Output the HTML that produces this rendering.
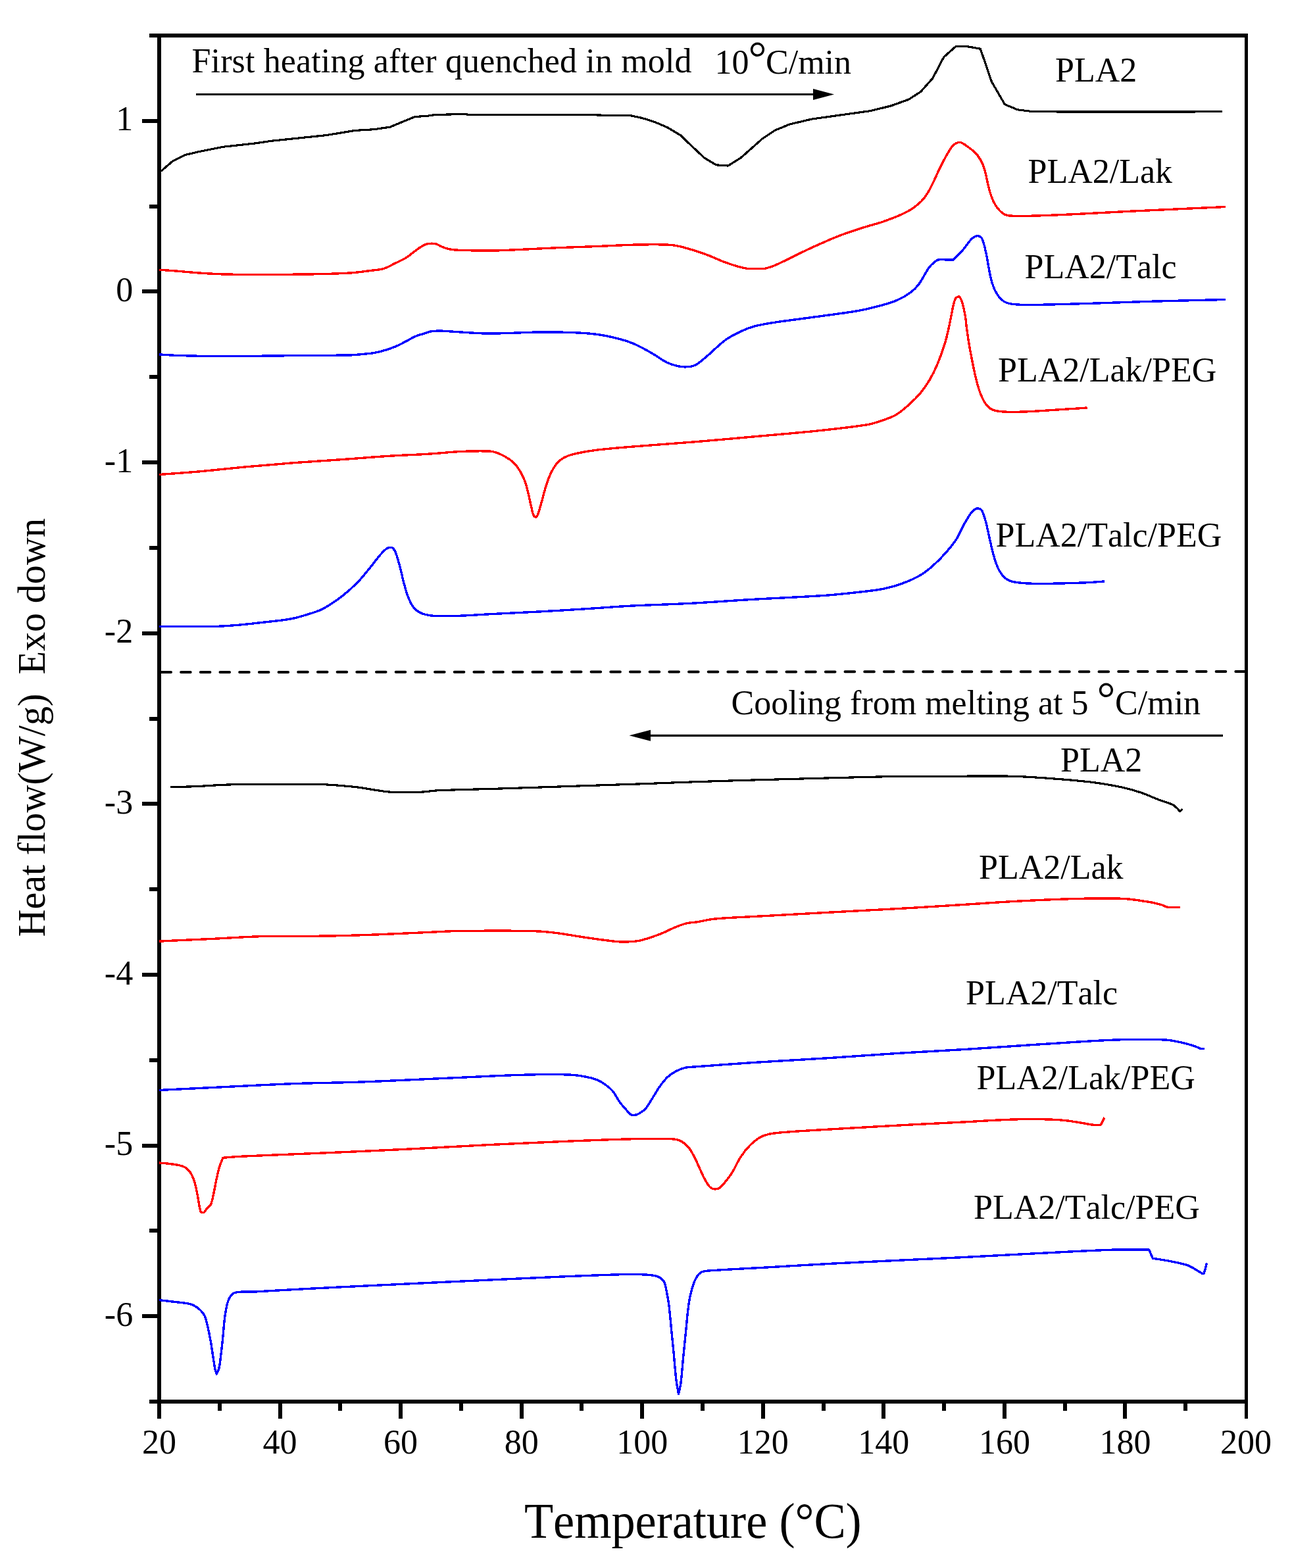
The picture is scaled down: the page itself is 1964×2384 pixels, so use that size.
<!DOCTYPE html>
<html lang="en"><head><meta charset="utf-8"><title>DSC curves: first heating and cooling of PLA2 blends</title>
<style>html,body{margin:0;padding:0;background:#fff}svg{display:block}text{font-family:"Liberation Serif","DejaVu Serif",serif;fill:#000;font-kerning:none}</style>
</head><body>
<svg width="1964" height="2384" viewBox="0 0 1964 2384">
<rect x="0" y="0" width="1964" height="2384" fill="#fff"/>
<line x1="245.4" y1="1022" x2="1893" y2="1021" stroke="#000" stroke-width="4" stroke-linecap="round" stroke-dasharray="14.6 15.09"/>
<line x1="243" y1="1022" x2="250" y2="1022" stroke="#000" stroke-width="4"/>
<g stroke="#000" fill="none" shape-rendering="crispEdges">
<line x1="227" y1="54" x2="1897" y2="54" stroke-width="6"/>
<line x1="227" y1="2131" x2="1897" y2="2131" stroke-width="6"/>
<line x1="242" y1="51" x2="242" y2="2156.5" stroke-width="6"/>
<line x1="1894.5" y1="51" x2="1894.5" y2="2156.5" stroke-width="5"/>
<line x1="216" y1="183.8" x2="240" y2="183.8" stroke-width="6"/>
<line x1="216" y1="443.4" x2="240" y2="443.4" stroke-width="6"/>
<line x1="216" y1="703.1" x2="240" y2="703.1" stroke-width="6"/>
<line x1="216" y1="962.7" x2="240" y2="962.7" stroke-width="6"/>
<line x1="216" y1="1222.3" x2="240" y2="1222.3" stroke-width="6"/>
<line x1="216" y1="1481.9" x2="240" y2="1481.9" stroke-width="6"/>
<line x1="216" y1="1741.6" x2="240" y2="1741.6" stroke-width="6"/>
<line x1="216" y1="2001.2" x2="240" y2="2001.2" stroke-width="6"/>
<line x1="227" y1="313.6" x2="240" y2="313.6" stroke-width="6"/>
<line x1="227" y1="573.2" x2="240" y2="573.2" stroke-width="6"/>
<line x1="227" y1="832.9" x2="240" y2="832.9" stroke-width="6"/>
<line x1="227" y1="1092.5" x2="240" y2="1092.5" stroke-width="6"/>
<line x1="227" y1="1352.1" x2="240" y2="1352.1" stroke-width="6"/>
<line x1="227" y1="1611.8" x2="240" y2="1611.8" stroke-width="6"/>
<line x1="227" y1="1871.4" x2="240" y2="1871.4" stroke-width="6"/>
<line x1="425.6" y1="2131" x2="425.6" y2="2156.5" stroke-width="6"/>
<line x1="609.1" y1="2131" x2="609.1" y2="2156.5" stroke-width="6"/>
<line x1="792.7" y1="2131" x2="792.7" y2="2156.5" stroke-width="6"/>
<line x1="976.2" y1="2131" x2="976.2" y2="2156.5" stroke-width="6"/>
<line x1="1159.8" y1="2131" x2="1159.8" y2="2156.5" stroke-width="6"/>
<line x1="1343.3" y1="2131" x2="1343.3" y2="2156.5" stroke-width="6"/>
<line x1="1526.9" y1="2131" x2="1526.9" y2="2156.5" stroke-width="6"/>
<line x1="1710.4" y1="2131" x2="1710.4" y2="2156.5" stroke-width="6"/>
<line x1="333.8" y1="2131" x2="333.8" y2="2145" stroke-width="6"/>
<line x1="517.3" y1="2131" x2="517.3" y2="2145" stroke-width="6"/>
<line x1="700.9" y1="2131" x2="700.9" y2="2145" stroke-width="6"/>
<line x1="884.4" y1="2131" x2="884.4" y2="2145" stroke-width="6"/>
<line x1="1068.0" y1="2131" x2="1068.0" y2="2145" stroke-width="6"/>
<line x1="1251.6" y1="2131" x2="1251.6" y2="2145" stroke-width="6"/>
<line x1="1435.1" y1="2131" x2="1435.1" y2="2145" stroke-width="6"/>
<line x1="1618.7" y1="2131" x2="1618.7" y2="2145" stroke-width="6"/>
<line x1="1802.2" y1="2131" x2="1802.2" y2="2145" stroke-width="6"/>
</g>
<g fill="none" stroke-linejoin="round" stroke-linecap="butt" shape-rendering="crispEdges">
<path stroke="#000" stroke-width="3.2" d="M245.0 260.1 L262.7 244.8 L282.0 235.4 L302.6 230.6 L338.9 223.3 L389.7 217.7 L411.5 214.4 L496.1 205.6 L539.7 198.4 L568.7 196.7 L592.9 193.1 L630.4 177.6 L650.0 176.2 L661.8 174.5 L702.9 173.5 L712.6 174.2 L886.8 174.4 L925.5 175.4 L959.4 175.9 L976.3 179.5 L995.7 185.6 L1015.0 194.0 L1034.4 205.6 L1050.0 220.6 L1070.6 239.9 L1088.7 250.8 L1106.9 252.0 L1126.2 239.9 L1158.9 210.9 L1178.2 198.1 L1200.0 189.1 L1233.9 181.1 L1267.8 176.3 L1323.4 168.6 L1354.9 160.8 L1381.5 151.1 L1399.6 139.5 L1417.8 119.0 L1434.7 86.8 L1452.9 70.6 L1471.0 70.8 L1490.3 74.2 L1507.4 124.2 L1527.4 158.7 L1546.8 166.8 L1567.7 169.4 L1612.9 170.0 L1809.7 170.0 L1858.0 169.4"/>
<path stroke="#ff0000" stroke-width="3.4" d="M242.2 410.2 C250.2 410.8 258.3 411.3 266.3 411.9 C278.4 412.9 290.5 414.2 302.6 415.0 C314.7 415.8 326.8 416.6 338.9 416.9 C355.0 417.4 371.2 417.4 387.3 417.4 C415.5 417.4 443.8 417.4 472.0 416.9 C492.1 416.6 512.3 416.2 532.4 415.0 C542.9 414.4 553.4 412.7 563.9 411.4 C570.4 410.6 577.2 410.3 583.3 408.5 C589.1 406.7 594.6 403.2 600.2 400.5 C605.9 397.7 611.8 395.3 617.1 392.0 C623.9 387.7 629.8 382.0 636.5 377.5 C639.9 375.2 643.5 372.9 647.3 371.5 C649.8 370.5 652.9 370.3 655.7 370.2 C658.1 370.1 660.7 370.3 663.0 371.0 C665.9 371.9 668.6 373.9 671.5 375.1 C675.0 376.5 678.6 377.9 682.3 378.7 C686.7 379.6 691.2 380.0 695.7 380.2 C709.4 380.8 723.1 381.0 736.8 381.1 C746.5 381.2 756.1 381.0 765.8 380.6 C792.4 379.5 819.1 377.9 845.7 376.8 C865.9 375.9 886.0 375.4 906.2 374.6 C924.7 373.9 943.3 372.7 961.8 372.2 C977.1 371.8 992.5 371.6 1007.8 371.9 C1014.2 372.0 1020.8 372.3 1027.1 373.4 C1034.8 374.7 1042.5 377.0 1050.0 379.2 C1058.1 381.6 1066.3 384.2 1074.2 387.2 C1082.4 390.3 1090.2 394.2 1098.4 397.3 C1105.6 400.0 1112.9 402.6 1120.2 404.8 C1124.9 406.2 1129.9 407.1 1134.7 408.2 C1144.4 408.2 1154.0 408.2 1163.7 408.2 C1168.5 406.6 1173.6 405.5 1178.2 403.4 C1193.7 396.4 1208.8 388.4 1224.2 381.1 C1233.0 376.9 1241.9 372.9 1250.8 369.0 C1260.4 364.8 1270.1 360.5 1279.9 356.9 C1291.8 352.5 1304.0 348.7 1316.1 344.8 C1325.3 341.9 1334.9 339.8 1344.0 336.5 C1355.5 332.3 1367.2 328.1 1377.9 322.4 C1385.8 318.2 1393.6 312.7 1400.0 306.5 C1405.1 301.6 1409.4 295.0 1412.9 288.7 C1420.1 275.7 1425.3 261.6 1432.3 248.4 C1437.2 239.2 1441.9 229.3 1448.4 221.5 C1450.5 219.0 1456.2 216.0 1459.0 216.3 C1463.4 216.8 1468.4 221.2 1472.6 224.2 C1477.2 227.5 1482.1 231.2 1485.5 235.5 C1489.5 240.7 1493.1 247.0 1495.2 253.2 C1499.5 265.7 1500.9 279.2 1504.8 291.9 C1506.8 298.5 1509.4 305.4 1512.9 311.3 C1515.8 316.0 1519.8 320.9 1524.2 324.2 C1527.1 326.4 1531.8 327.9 1535.5 328.1 C1554.7 329.0 1574.2 328.1 1593.5 327.4 C1636.5 325.8 1679.6 323.1 1722.6 321.0 C1769.4 318.8 1816.1 316.7 1862.9 314.5"/>
<path stroke="#0000ff" stroke-width="3.4" d="M242.2 538.9 C250.2 539.4 258.3 540.0 266.3 540.3 C282.4 540.9 298.6 541.3 314.7 541.5 C333.2 541.7 351.8 541.6 370.3 541.5 C396.1 541.3 422.0 540.9 447.8 540.6 C476.0 540.3 504.2 540.5 532.4 539.9 C538.9 539.8 545.3 539.0 551.8 538.4 C557.4 537.9 563.1 537.5 568.7 536.5 C574.4 535.5 580.1 534.1 585.7 532.4 C591.4 530.7 597.1 528.6 602.6 526.3 C607.6 524.2 612.3 521.5 617.1 519.0 C622.0 516.5 626.6 513.4 631.6 511.3 C635.9 509.5 640.5 508.4 645.0 507.0 C648.2 506.0 651.3 504.5 654.5 504.0 C659.2 503.2 664.2 503.0 669.0 503.1 C679.5 503.3 690.0 504.4 700.5 505.0 C712.6 505.7 724.7 506.7 736.8 507.0 C746.5 507.3 756.1 506.9 765.8 506.7 C783.5 506.3 801.3 505.2 819.0 505.0 C836.8 504.8 854.6 505.0 872.3 505.7 C883.6 506.1 895.0 506.8 906.2 508.2 C915.9 509.4 925.7 511.3 935.2 513.7 C944.2 515.9 953.3 518.5 961.8 522.0 C970.9 525.7 979.7 530.6 988.4 535.5 C996.7 540.1 1004.2 546.1 1012.6 550.5 C1017.1 552.8 1022.2 554.4 1027.1 555.8 C1031.0 556.9 1035.2 557.6 1039.2 557.8 C1043.2 558.0 1047.4 557.8 1051.3 557.0 C1054.2 556.4 1057.3 555.2 1059.7 553.6 C1064.8 550.2 1069.5 546.0 1074.2 542.0 C1084.0 533.7 1092.9 524.1 1103.2 516.6 C1110.5 511.3 1119.1 507.2 1127.4 503.3 C1133.6 500.4 1140.2 497.8 1146.8 496.1 C1156.3 493.6 1166.1 492.1 1175.8 490.5 C1190.3 488.2 1204.9 486.5 1219.4 484.5 C1231.5 482.8 1243.6 481.3 1255.7 479.6 C1271.8 477.3 1288.0 475.5 1304.0 472.6 C1316.2 470.4 1328.3 467.4 1340.3 464.1 C1348.5 461.9 1356.8 459.5 1364.5 456.1 C1370.8 453.4 1377.1 449.8 1382.7 445.7 C1387.5 442.2 1392.4 437.9 1396.0 433.2 C1402.4 424.8 1406.5 414.5 1412.9 406.0 C1415.7 402.2 1419.9 399.0 1423.8 396.1 C1424.8 395.3 1426.6 394.8 1428.0 394.8 C1435.0 394.6 1442.1 395.1 1449.2 395.2 C1454.3 389.8 1459.6 384.6 1464.5 379.0 C1469.0 373.8 1472.5 367.6 1477.4 362.9 C1479.4 361.0 1482.9 359.0 1485.5 358.7 C1487.3 358.5 1491.2 360.1 1491.9 361.3 C1495.3 367.5 1496.8 375.2 1498.4 382.3 C1501.6 396.1 1503.0 410.5 1506.5 424.2 C1508.3 431.4 1510.9 438.8 1514.5 445.2 C1517.2 450.0 1521.4 455.0 1525.8 458.1 C1529.2 460.5 1534.4 461.7 1538.7 462.3 C1548.2 463.5 1558.0 463.6 1567.7 463.5 C1597.8 463.2 1627.9 462.2 1658.0 461.3 C1690.3 460.4 1722.5 459.0 1754.8 458.1 C1790.8 457.1 1826.9 456.4 1862.9 455.5"/>
<path stroke="#ff0000" stroke-width="3.4" d="M242.2 721.5 C262.3 720.0 282.5 718.7 302.6 716.9 C326.8 714.8 351.0 711.9 375.2 709.7 C399.4 707.5 423.6 705.5 447.8 703.6 C472.0 701.8 496.1 700.3 520.3 698.6 C544.5 696.9 568.7 694.7 592.9 693.2 C611.9 692.0 631.0 691.5 650.0 690.3 C666.8 689.3 683.7 687.3 700.5 686.5 C715.0 685.8 729.5 685.6 744.0 686.0 C747.2 686.1 750.6 686.8 753.7 687.9 C758.7 689.6 763.7 691.8 768.2 694.4 C772.9 697.1 777.7 700.3 781.5 704.1 C785.3 707.9 788.5 712.7 791.2 717.4 C794.1 722.4 796.6 727.8 798.5 733.2 C800.6 739.0 801.8 745.2 803.3 751.3 C805.1 758.5 806.4 765.9 808.2 773.1 C809.1 776.8 809.7 780.7 811.3 784.0 C811.8 785.0 814.3 786.6 814.7 786.4 C815.9 786.0 817.2 783.2 817.8 781.5 C820.2 774.8 821.9 767.9 823.9 761.0 C826.0 753.8 827.6 746.4 829.9 739.2 C832.0 732.6 834.2 726.0 837.2 719.8 C839.9 714.3 843.0 708.7 846.9 704.1 C849.8 700.7 853.9 697.7 857.8 695.6 C862.2 693.2 867.4 691.5 872.3 690.3 C883.4 687.7 894.8 685.7 906.2 684.3 C926.3 681.8 946.5 680.4 966.6 678.7 C997.7 676.1 1028.9 674.1 1060.0 671.5 C1088.9 669.1 1117.9 666.4 1146.8 663.8 C1179.1 660.9 1211.4 658.3 1243.6 654.9 C1268.6 652.3 1293.8 649.6 1318.6 645.7 C1325.9 644.5 1333.2 642.0 1340.3 639.6 C1347.7 637.0 1355.5 634.6 1362.1 630.7 C1369.1 626.6 1375.4 620.8 1381.5 615.4 C1387.4 610.1 1393.3 604.6 1398.4 598.5 C1403.8 592.1 1408.6 585.1 1412.9 577.9 C1417.5 570.2 1421.5 562.0 1425.0 553.7 C1429.6 542.7 1433.7 531.3 1437.1 519.8 C1440.1 509.5 1442.1 498.9 1444.4 488.4 C1446.1 480.4 1447.3 472.2 1449.2 464.2 C1450.1 460.5 1451.0 456.3 1452.9 453.3 C1453.6 452.2 1457.3 450.6 1457.7 450.9 C1459.8 452.3 1461.5 456.4 1462.5 459.4 C1464.7 466.4 1466.1 473.8 1467.4 481.1 C1468.6 488.3 1468.9 495.7 1470.0 502.9 C1471.7 514.7 1473.5 526.4 1475.8 538.1 C1478.7 553.2 1481.5 568.4 1485.5 583.2 C1487.9 592.0 1490.9 601.1 1495.2 609.0 C1497.8 613.8 1502.1 619.2 1506.5 621.9 C1510.8 624.5 1517.2 625.3 1522.6 625.8 C1533.2 626.7 1544.1 626.4 1554.8 626.1 C1567.7 625.8 1580.6 624.7 1593.5 623.9 C1613.2 622.7 1632.9 621.3 1652.6 620.0"/>
<path stroke="#0000ff" stroke-width="3.4" d="M242.2 952.4 C270.4 952.4 298.6 952.9 326.8 952.4 C338.9 952.2 351.0 951.2 363.1 950.2 C375.2 949.2 387.3 947.7 399.4 946.3 C413.9 944.6 428.6 943.5 442.9 940.8 C452.7 939.0 462.4 935.8 472.0 932.8 C478.5 930.7 485.4 928.8 491.3 925.5 C501.4 919.9 511.2 913.3 520.3 906.2 C528.8 899.6 537.0 892.1 544.5 884.4 C551.5 877.2 557.5 869.1 563.9 861.4 C568.8 855.4 573.3 849.1 578.4 843.2 C581.0 840.2 583.8 837.1 586.9 834.8 C588.5 833.6 590.9 832.5 592.9 832.4 C594.4 832.3 596.9 833.0 597.8 834.0 C600.0 836.4 601.5 840.0 602.6 843.2 C605.1 850.3 606.8 857.7 608.7 865.0 C610.8 873.0 612.5 881.2 614.7 889.2 C616.5 895.7 618.2 902.4 620.8 908.6 C623.0 914.0 625.6 919.8 629.2 924.3 C631.5 927.3 635.4 929.6 638.9 931.6 C641.4 933.0 644.4 933.8 647.3 934.5 C651.3 935.4 655.4 936.2 659.4 936.4 C671.4 936.9 683.6 936.8 695.6 936.4 C713.4 935.8 731.1 934.4 748.9 933.5 C773.1 932.3 797.3 931.2 821.5 929.9 C845.7 928.6 869.8 927.0 894.0 925.5 C914.2 924.2 934.3 922.5 954.5 921.4 C986.3 919.7 1018.2 919.0 1050.0 917.3 C1082.3 915.6 1114.5 913.1 1146.8 911.2 C1183.1 909.1 1219.4 907.8 1255.7 905.2 C1275.9 903.8 1296.0 901.4 1316.1 899.1 C1325.8 898.0 1335.7 896.9 1345.2 894.8 C1354.2 892.8 1363.2 890.2 1371.8 887.0 C1380.9 883.6 1390.0 879.7 1398.4 874.9 C1405.3 870.9 1411.8 865.7 1417.8 860.4 C1424.6 854.4 1431.1 847.9 1437.1 841.1 C1443.2 834.2 1449.1 827.0 1454.1 819.3 C1458.8 812.0 1461.8 803.7 1466.1 796.1 C1469.6 790.0 1473.0 783.7 1477.4 778.4 C1479.3 776.1 1482.7 773.5 1485.5 772.9 C1487.1 772.6 1491.1 774.0 1491.9 775.2 C1495.1 780.2 1496.7 786.9 1498.4 792.9 C1501.6 804.6 1503.6 816.6 1506.5 828.4 C1508.9 838.1 1511.0 848.1 1514.5 857.4 C1516.8 863.6 1520.1 870.1 1524.2 875.2 C1526.9 878.5 1531.5 881.7 1535.5 883.2 C1541.4 885.4 1548.3 886.0 1554.8 886.5 C1565.5 887.4 1576.3 887.5 1587.1 887.4 C1608.6 887.2 1630.1 886.6 1651.6 885.8 C1660.7 885.5 1669.9 884.5 1679.0 883.9"/>
<path stroke="#000" stroke-width="3.2" d="M259.0 1196.6 C271.9 1196.3 284.8 1196.2 297.7 1195.7 C312.2 1195.1 326.8 1193.7 341.3 1193.2 C357.4 1192.6 373.6 1192.4 389.7 1192.3 C421.1 1192.1 452.6 1192.1 484.0 1192.5 C492.1 1192.6 500.2 1193.1 508.2 1193.7 C520.3 1194.6 532.4 1195.6 544.5 1197.1 C554.2 1198.3 563.9 1200.3 573.6 1201.7 C580.0 1202.6 586.5 1203.9 592.9 1204.1 C609.0 1204.7 625.2 1204.6 641.3 1204.1 C648.9 1203.9 656.6 1202.2 664.2 1201.9 C696.4 1200.5 728.7 1200.0 761.0 1199.0 C801.3 1197.7 841.7 1196.3 882.0 1194.9 C914.2 1193.8 946.5 1192.8 978.7 1191.7 C1005.8 1190.7 1032.9 1189.5 1060.0 1188.6 C1095.4 1187.4 1130.7 1186.4 1166.1 1185.4 C1200.0 1184.4 1233.9 1183.5 1267.8 1182.7 C1298.4 1181.9 1329.1 1181.0 1359.7 1180.6 C1396.5 1180.1 1433.2 1180.2 1470.0 1180.1 C1493.5 1180.1 1517.1 1179.6 1540.6 1180.3 C1561.7 1180.9 1582.9 1182.5 1604.0 1184.1 C1623.2 1185.6 1642.5 1187.1 1661.6 1189.5 C1676.1 1191.3 1690.5 1193.8 1704.8 1196.8 C1714.5 1198.9 1724.2 1201.6 1733.6 1204.8 C1743.4 1208.1 1752.7 1212.6 1762.4 1216.3 C1769.1 1218.8 1776.2 1220.5 1782.6 1223.5 C1785.2 1224.7 1787.4 1227.4 1789.8 1229.3 C1791.0 1230.7 1792.3 1232.2 1793.5 1233.6 C1794.9 1232.4 1796.2 1231.1 1797.6 1229.9"/>
<path stroke="#ff0000" stroke-width="3.4" d="M242.2 1431.1 C270.4 1429.8 298.6 1428.5 326.8 1427.2 C351.0 1426.0 375.2 1424.2 399.4 1423.6 C431.6 1422.8 463.9 1423.6 496.1 1423.1 C520.3 1422.7 544.5 1422.0 568.7 1421.1 C595.8 1420.1 622.9 1418.7 650.0 1417.5 C664.4 1416.9 678.8 1415.8 693.2 1415.6 C731.9 1415.1 770.7 1414.9 809.4 1415.6 C821.5 1415.8 833.7 1417.0 845.7 1418.5 C861.9 1420.5 877.9 1423.7 894.0 1426.0 C906.1 1427.8 918.2 1429.4 930.3 1430.8 C935.9 1431.4 941.7 1432.1 947.3 1432.0 C955.4 1431.9 963.7 1431.9 971.5 1430.3 C982.1 1428.1 992.6 1424.2 1002.9 1420.4 C1011.2 1417.3 1018.9 1412.8 1027.1 1409.5 C1032.6 1407.3 1038.3 1405.1 1044.1 1403.7 C1049.2 1402.5 1054.7 1402.6 1060.0 1401.8 C1068.8 1400.4 1077.5 1397.9 1086.3 1397.1 C1110.4 1394.9 1134.7 1394.2 1158.9 1392.8 C1203.3 1390.3 1247.6 1387.9 1292.0 1385.5 C1324.2 1383.7 1356.5 1382.1 1388.7 1380.2 C1415.8 1378.6 1442.9 1376.8 1470.0 1375.1 C1495.5 1373.5 1520.9 1371.5 1546.4 1370.2 C1577.1 1368.6 1607.9 1367.1 1638.6 1366.4 C1661.6 1365.9 1684.7 1365.3 1707.7 1366.4 C1721.1 1367.0 1734.6 1369.5 1748.0 1371.6 C1753.8 1372.5 1759.6 1374.0 1765.3 1375.6 C1768.7 1376.6 1772.0 1379.0 1775.4 1379.4 C1781.5 1380.2 1787.9 1379.4 1794.1 1379.4"/>
<path stroke="#0000ff" stroke-width="3.4" d="M242.2 1657.5 C274.4 1655.9 306.7 1654.3 338.9 1652.7 C375.2 1651.0 411.5 1648.9 447.8 1647.6 C480.0 1646.4 512.3 1646.3 544.5 1645.2 C579.7 1644.0 614.8 1642.2 650.0 1640.6 C670.9 1639.7 691.7 1638.6 712.6 1637.7 C736.8 1636.6 761.0 1635.3 785.2 1634.5 C802.9 1633.9 820.7 1633.6 838.4 1633.6 C849.7 1633.6 861.1 1633.6 872.3 1634.5 C879.6 1635.1 886.9 1636.4 894.0 1637.9 C898.9 1639.0 904.0 1640.3 908.6 1642.3 C912.8 1644.1 917.0 1646.7 920.7 1649.5 C924.6 1652.4 928.6 1655.5 931.6 1659.2 C935.8 1664.3 938.5 1670.7 942.4 1676.1 C945.3 1680.1 948.8 1683.7 952.1 1687.5 C954.1 1689.8 955.8 1692.7 958.2 1694.3 C959.7 1695.3 962.3 1695.7 964.2 1695.5 C966.6 1695.3 969.4 1694.3 971.5 1693.1 C975.0 1691.1 978.6 1688.7 981.2 1685.8 C985.0 1681.5 987.7 1676.2 990.8 1671.3 C994.9 1664.9 998.5 1658.1 1002.9 1651.9 C1006.5 1646.8 1010.5 1641.7 1015.0 1637.4 C1018.5 1634.1 1022.8 1631.3 1027.1 1629.0 C1031.6 1626.6 1036.7 1624.5 1041.6 1623.4 C1047.5 1622.1 1053.9 1622.2 1060.0 1621.7 C1088.9 1619.5 1117.9 1617.3 1146.8 1615.4 C1183.1 1613.0 1219.4 1611.2 1255.7 1608.9 C1292.0 1606.6 1328.2 1603.7 1364.5 1601.4 C1399.7 1599.2 1434.8 1597.5 1470.0 1595.3 C1505.1 1593.1 1540.1 1590.4 1575.2 1588.2 C1615.5 1585.7 1655.8 1582.5 1696.2 1581.0 C1721.1 1580.1 1746.2 1579.8 1771.1 1581.0 C1780.7 1581.5 1790.4 1583.8 1799.9 1585.9 C1805.7 1587.2 1811.4 1589.2 1817.1 1591.1 C1820.0 1592.1 1822.8 1593.8 1825.8 1594.5 C1827.3 1594.9 1829.1 1594.5 1830.7 1594.5"/>
<path stroke="#ff0000" stroke-width="3.4" d="M242.2 1768.1 C247.0 1768.5 251.8 1768.7 256.6 1769.3 C262.3 1770.0 268.0 1770.7 273.6 1772.0 C276.5 1772.7 279.6 1773.7 282.0 1775.3 C284.7 1777.2 287.4 1779.9 289.3 1782.6 C291.3 1785.5 292.8 1789.0 294.1 1792.3 C295.6 1796.2 296.8 1800.3 297.7 1804.4 C299.2 1810.8 300.1 1817.3 301.4 1823.7 C302.7 1830.2 303.0 1837.2 305.5 1843.1 C305.6 1843.4 309.1 1844.1 309.8 1843.6 C311.8 1842.3 312.9 1839.0 314.7 1837.0 C316.3 1835.2 319.1 1834.0 320.0 1832.2 C322.3 1827.4 323.2 1821.8 324.4 1816.5 C326.2 1808.5 327.4 1800.3 329.2 1792.3 C330.6 1785.8 332.1 1779.3 334.0 1772.9 C335.3 1768.6 337.3 1764.5 338.9 1760.3 C347.0 1759.7 355.0 1758.8 363.1 1758.4 C391.3 1757.0 419.6 1756.0 447.8 1754.8 C480.0 1753.4 512.3 1752.2 544.5 1750.7 C579.7 1749.1 614.8 1747.4 650.0 1745.6 C683.0 1743.9 715.9 1741.9 748.9 1740.3 C785.2 1738.5 821.5 1736.9 857.8 1735.4 C891.7 1734.0 925.5 1732.6 959.4 1731.8 C979.4 1731.3 999.4 1730.9 1019.4 1731.6 C1024.2 1731.8 1029.7 1732.5 1033.9 1734.4 C1038.3 1736.4 1042.8 1739.9 1046.0 1743.6 C1049.9 1748.1 1052.8 1753.9 1055.7 1759.3 C1058.4 1764.3 1060.5 1769.8 1062.9 1775.0 C1065.3 1780.2 1067.5 1785.6 1070.2 1790.7 C1072.4 1794.8 1074.6 1799.1 1077.4 1802.8 C1078.6 1804.4 1080.5 1806.0 1082.3 1806.9 C1083.6 1807.6 1085.6 1808.0 1087.1 1807.9 C1089.1 1807.8 1091.7 1807.5 1093.2 1806.5 C1096.4 1804.3 1099.1 1801.0 1101.6 1798.0 C1105.5 1793.4 1109.3 1788.6 1112.5 1783.5 C1117.4 1775.7 1120.8 1767.0 1125.8 1759.3 C1130.0 1752.9 1134.9 1746.6 1140.3 1741.1 C1144.6 1736.7 1149.6 1732.6 1154.9 1729.5 C1159.2 1727.0 1164.5 1725.2 1169.4 1724.2 C1178.9 1722.3 1188.7 1721.7 1198.4 1721.0 C1222.2 1719.2 1246.1 1717.9 1270.0 1716.5 C1309.6 1714.2 1349.1 1711.9 1388.7 1709.8 C1415.8 1708.3 1442.9 1707.1 1470.0 1705.7 C1485.9 1704.9 1501.7 1703.7 1517.6 1703.0 C1532.0 1702.3 1546.4 1701.7 1560.8 1701.5 C1573.3 1701.4 1585.7 1701.6 1598.2 1702.1 C1605.9 1702.4 1613.6 1702.9 1621.3 1703.8 C1629.0 1704.7 1636.6 1706.1 1644.3 1707.3 C1650.1 1708.2 1655.8 1709.7 1661.6 1710.2 C1665.4 1710.5 1669.9 1711.1 1673.1 1709.9 C1674.2 1709.5 1675.1 1706.7 1676.0 1705.0 C1677.0 1703.1 1677.9 1701.1 1678.9 1699.2"/>
<path stroke="#0000ff" stroke-width="3.4" d="M242.2 1976.6 C250.2 1977.6 258.3 1978.5 266.3 1979.5 C272.7 1980.3 279.3 1980.7 285.6 1981.9 C288.9 1982.5 292.4 1983.5 295.3 1985.1 C298.8 1987.0 302.2 1989.6 305.0 1992.4 C307.4 1994.8 309.8 1997.8 311.1 2000.8 C313.4 2006.1 314.6 2012.1 315.9 2017.8 C317.8 2025.8 319.3 2033.9 320.7 2042.0 C322.1 2050.0 323.1 2058.1 324.4 2066.2 C325.3 2071.8 326.1 2077.5 327.3 2083.1 C327.7 2085.1 328.6 2087.1 329.2 2089.1 C330.4 2086.3 332.1 2083.6 332.8 2080.7 C334.3 2074.4 334.9 2067.8 335.7 2061.3 C336.9 2051.7 337.9 2042.0 338.9 2032.3 C340.0 2021.8 340.4 2011.2 342.0 2000.8 C343.2 1992.7 344.4 1984.1 347.3 1976.6 C348.9 1972.7 352.8 1966.6 355.8 1965.7 C365.2 1962.7 376.8 1964.6 387.3 1964.0 C415.5 1962.4 443.8 1960.7 472.0 1959.2 C504.2 1957.5 536.5 1956.0 568.7 1954.4 C595.8 1953.1 622.9 1951.8 650.0 1950.5 C716.7 1947.4 783.3 1944.1 850.0 1941.2 C880.6 1939.9 911.3 1938.6 941.9 1937.8 C953.2 1937.5 964.5 1937.4 975.8 1937.8 C982.3 1938.0 988.9 1938.4 995.2 1939.5 C998.0 1940.0 1001.2 1941.1 1003.6 1942.7 C1005.9 1944.3 1008.6 1946.8 1009.7 1949.2 C1011.7 1953.6 1012.3 1958.8 1013.3 1963.7 C1014.8 1970.9 1016.1 1978.2 1017.0 1985.5 C1018.5 1997.6 1019.4 2009.7 1020.6 2021.8 C1021.8 2033.9 1023.0 2046.0 1024.2 2058.1 C1025.4 2071.0 1026.3 2083.9 1027.8 2096.8 C1028.7 2104.5 1030.3 2112.1 1031.5 2119.8 C1032.7 2113.7 1034.3 2107.7 1035.1 2101.6 C1036.7 2088.8 1037.4 2075.8 1038.7 2062.9 C1039.9 2050.8 1041.2 2038.7 1042.4 2026.6 C1043.6 2014.5 1044.5 2002.4 1046.0 1990.3 C1046.9 1983.0 1048.0 1975.7 1049.6 1968.6 C1050.8 1962.9 1052.3 1957.1 1054.4 1951.6 C1056.0 1947.4 1057.9 1943.0 1060.5 1939.5 C1062.3 1937.1 1065.3 1934.2 1067.8 1933.5 C1075.4 1931.5 1083.9 1931.6 1092.0 1931.1 C1116.1 1929.5 1140.3 1928.4 1164.5 1927.0 C1199.7 1925.0 1234.8 1922.7 1270.0 1920.9 C1333.3 1917.6 1396.7 1915.0 1460.0 1911.8 C1498.4 1909.9 1536.8 1907.6 1575.2 1905.7 C1613.6 1903.8 1652.0 1901.5 1690.4 1900.2 C1709.1 1899.6 1727.9 1900.1 1746.6 1900.0 C1748.5 1904.4 1750.4 1908.8 1752.3 1913.2 C1760.5 1914.5 1768.7 1915.6 1776.8 1917.2 C1786.5 1919.1 1796.3 1920.8 1805.6 1923.9 C1810.6 1925.6 1815.2 1929.0 1820.0 1931.6 C1823.2 1933.3 1827.7 1937.3 1829.5 1936.8 C1830.4 1936.6 1831.5 1931.1 1832.4 1928.2 C1833.2 1925.6 1833.7 1923.0 1834.4 1920.4"/>
</g>
<g font-size="52" text-anchor="middle">
<text x="242.0" y="2210">20</text>
<text x="425.6" y="2210">40</text>
<text x="609.1" y="2210">60</text>
<text x="792.7" y="2210">80</text>
<text x="976.2" y="2210">100</text>
<text x="1159.8" y="2210">120</text>
<text x="1343.3" y="2210">140</text>
<text x="1526.9" y="2210">160</text>
<text x="1710.4" y="2210">180</text>
<text x="1894.0" y="2210">200</text>
</g>
<g font-size="52" text-anchor="end">
<text x="202.2" y="198.4">1</text>
<text x="202.2" y="458.0">0</text>
<text x="202.2" y="717.7">-1</text>
<text x="202.2" y="977.3">-2</text>
<text x="202.2" y="1236.9">-3</text>
<text x="202.2" y="1496.5">-4</text>
<text x="202.2" y="1756.2">-5</text>
<text x="202.2" y="2015.8">-6</text>
</g>
<text transform="translate(1053.3 2338) scale(0.958 1)" font-size="75.5" text-anchor="middle">Temperature (°C)</text>
<text transform="translate(67.8 1424.6) rotate(-90)" font-size="58.2" xml:space="preserve">Heat flow(W/g)  Exo down</text>
<text y="110.1" font-size="52"><tspan x="291.5" textLength="760" lengthAdjust="spacing">First heating after quenched in mold</tspan><tspan x="1073.4" y="111.8"> 10</tspan><tspan x="1137.5" y="111.2" font-size="70">°</tspan><tspan x="1164" y="111.8">C/min</tspan></text>
<line x1="298" y1="143.5" x2="1240" y2="143.5" stroke="#000" stroke-width="3.2"/>
<path d="M1268 143.5 L1236 135 L1236 152 Z" fill="#000"/>
<text y="1085.5" font-size="52"><tspan x="1111.5">Cooling from melting at 5 </tspan><tspan x="1667.5" y="1085.3" font-size="70">°</tspan><tspan x="1695.1" y="1085.5">C/min</tspan></text>
<line x1="985" y1="1118.3" x2="1859" y2="1118.3" stroke="#000" stroke-width="3.2"/>
<path d="M956.5 1118.3 L989 1109.8 L989 1126.8 Z" fill="#000"/>
<g font-size="52">
<text x="1604.0" y="124.2">PLA2</text>
<text x="1562.5" y="278.0">PLA2/Lak</text>
<text x="1557.5" y="422.6">PLA2/Talc</text>
<text x="1517.0" y="580.0">PLA2/Lak/PEG</text>
<text x="1513.5" y="830.6">PLA2/Talc/PEG</text>
<text x="1612.0" y="1172.6">PLA2</text>
<text x="1488.0" y="1335.6">PLA2/Lak</text>
<text x="1468.0" y="1526.8">PLA2/Talc</text>
<text x="1484.5" y="1656.0">PLA2/Lak/PEG</text>
<text x="1480.0" y="1852.7">PLA2/Talc/PEG</text>
</g>
</svg>
</body></html>
